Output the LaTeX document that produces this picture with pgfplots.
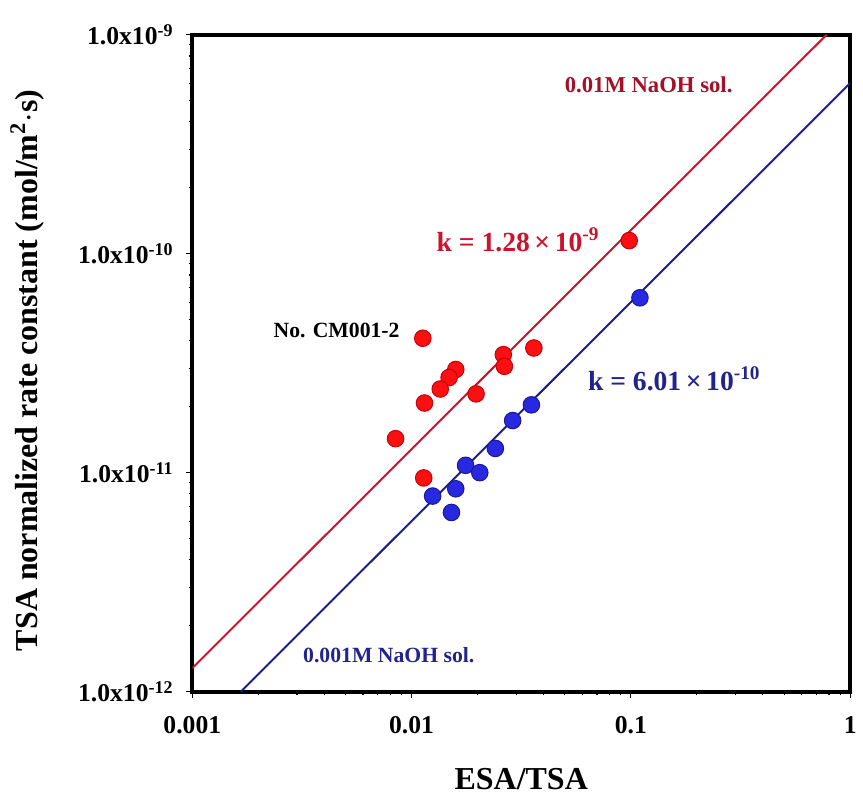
\documentclass[border=0pt]{standalone}
\usepackage{pgfplots}
\pgfplotsset{compat=1.18}
\usepackage{fontspec}
\setmainfont{Liberation Serif}
\definecolor{redline}{RGB}{196,22,46}
\definecolor{blueline}{RGB}{30,30,135}
\definecolor{redfill}{RGB}{250,16,16}
\definecolor{rededge}{RGB}{200,0,10}
\definecolor{bluefill}{RGB}{40,40,225}
\definecolor{blueedge}{RGB}{25,25,150}
\definecolor{redtext}{RGB}{165,15,40}
\definecolor{redk}{RGB}{200,20,45}
\definecolor{bluetext}{RGB}{35,35,140}
\begin{document}
\begin{tikzpicture}
\begin{axis}[
  at={(0,0)}, anchor=south west,
  scale only axis, width=333.5pt, height=333pt,
  xmode=log, ymode=log,
  xmin=0.001, xmax=1, ymin=1e-12, ymax=1e-9,
  axis line style={line width=2pt},
  tick pos=left, tick align=outside,
  major tick length=3pt, minor tick length=1.8pt,
  every tick/.style={black, line width=0.6pt},
  xtick={0.001,0.01,0.1,1},
  xticklabels={0.001,0.01,0.1,1},
  ytick={1e-12,1e-11,1e-10,1e-9},
  yticklabels={1.0x10\textsuperscript{-12},1.0x10\textsuperscript{-11},1.0x10\textsuperscript{-10},1.0x10\textsuperscript{-9}},
  ticklabel style={font=\bfseries\fontsize{13}{16}\selectfont},
  xticklabel style={yshift=-6pt},
  yticklabel style={xshift=-3pt},
  xlabel={ESA/TSA},
  ylabel={TSA normalized rate constant (mol/m\textsuperscript{2}$\cdot$s)},
  label style={font=\bfseries\fontsize{16.2}{20}\selectfont},
  xlabel style={at={(axis description cs:0.5,-0.1486)}, anchor=base},
  ylabel style={at={(axis description cs:-0.2354,0.489)}, anchor=base, rotate=0},
  clip=true,
]
% fitted lines
\addplot[redline, line width=1pt] coordinates {(0.001,1.28e-12) (0.78125,1e-9)};
\addplot[blueline, line width=1pt] coordinates {(0.001664,1e-12) (1,6.01e-10)};
% 0.01M NaOH data
\addplot[only marks, mark=*, mark size=4.2pt, mark options={fill=redfill, draw=rededge, line width=0.5pt}] coordinates {
(0.01125,4.11e-11)
(0.0262,3.46e-11)
(0.0265,3.06e-11)
(0.0361,3.71e-11)
(0.0159,2.96e-11)
(0.01483,2.72e-11)
(0.01351,2.41e-11)
(0.01145,2.08e-11)
(0.01968,2.29e-11)
(0.00845,1.43e-11)
(0.01136,9.46e-12)
(0.0983,1.148e-10)
};
% 0.001M NaOH data
\addplot[only marks, mark=*, mark size=4.2pt, mark options={fill=bluefill, draw=blueedge, line width=0.5pt}] coordinates {
(0.0352,2.04e-11)
(0.0289,1.73e-11)
(0.0241,1.29e-11)
(0.01763,1.08e-11)
(0.02046,1.00e-11)
(0.0159,8.44e-12)
(0.01247,7.82e-12)
(0.0152,6.58e-12)
(0.110,6.29e-11)
};
\node[text=redtext, font=\bfseries\fontsize{11.5}{14}\selectfont] at (axis cs:0.1205,5.89e-10) {0.01M NaOH sol.};
\node[text=redk, font=\bfseries\fontsize{14}{17}\selectfont] at (axis cs:0.0306,1.156e-10) {k = 1.28\,×\,10\textsuperscript{-9}};
\node[text=black, font=\bfseries\fontsize{11}{14}\selectfont] at (axis cs:0.00455,4.45e-11) {No. CM001-2};
\node[text=bluetext, font=\bfseries\fontsize{14}{17}\selectfont] at (axis cs:0.1578,2.68e-11) {k = 6.01\,×\,10\textsuperscript{-10}};
\node[text=bluetext, font=\bfseries\fontsize{11}{14}\selectfont] at (axis cs:0.00787,1.47e-12) {0.001M NaOH sol.};
\end{axis}
\pgfresetboundingbox
\useasboundingbox (-97.5pt,-56pt) rectangle (340pt,350.6pt);
\end{tikzpicture}
\end{document}
